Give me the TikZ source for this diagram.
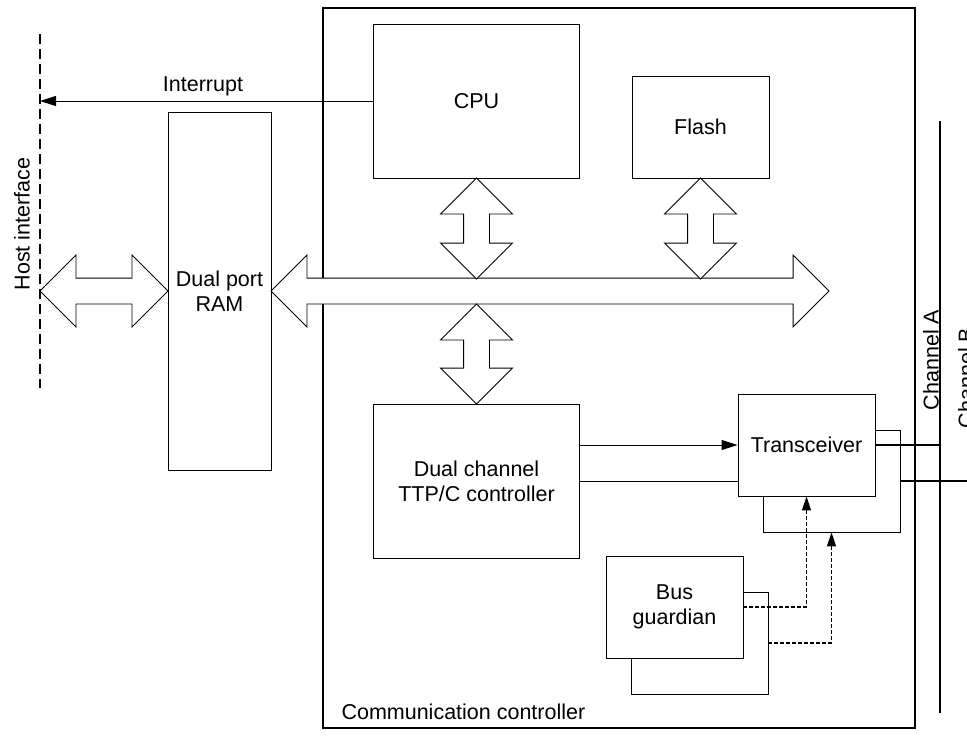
\documentclass[tikz,border=0pt]{standalone}
\usepackage{fontspec}
\setmainfont{Liberation Sans}
\usetikzlibrary{shapes.arrows, arrows.meta, positioning}

\tikzset{
  blk/.style={draw, line width=0.9pt, fill=white, align=center, inner sep=0pt},
  bigbox/.style={blk, minimum width=206pt, minimum height=154pt},
  smallbox/.style={blk, minimum width=137pt, minimum height=102pt},
  bigarrow/.style={double arrow, draw, line width=0.9pt, fill=white,
    inner xsep=0pt, inner ysep=12.5pt, minimum width=0pt,
    double arrow head extend=23pt},
  sig/.style={line width=0.9pt, -{Triangle[length=16pt, width=10pt]}},
  guard/.style={line width=1.3pt, dash pattern=on 4pt off 2pt,
    -{Triangle[length=14pt, width=9pt]}},
  wire/.style={line width=2pt}
}

\begin{document}
\begin{tikzpicture}[x=1pt, y=-1pt, font=\fontsize{21.5}{25}\selectfont]
    \useasboundingbox (0,0) rectangle (967,736);

    % Communication controller frame
    \node[draw, line width=1.1pt, minimum width=592pt, minimum height=720pt, inner sep=0pt] (comm) at (619,368) {};
    \node[anchor=base west] (commlbl) at (338,719) {Communication controller};

    % Host side
    \coordinate (hosttop) at (40,34);
    \coordinate (hostbot) at (40,388);
    \draw[line width=2pt, dash pattern=on 10pt off 5pt] (hosttop) -- (hostbot);
    \node[rotate=90, anchor=base] (hostlbl) at (29.5,224) {Host interface};

    % Blocks
    \node[blk, minimum width=103pt, minimum height=358pt] (ram) at (219.5,291) {Dual port\\RAM};
    \node[bigbox] (cpu) at (476.5,101) {CPU};
    \node[smallbox] (flash) at (700.5,127) {Flash};
    \node[bigbox] (dual) at (476.5,481) {Dual channel\\TTP/C controller};

    \node[smallbox] (trxb) at (831.5,481) {};
    \node[smallbox] (trx) at (806.5,445) {Transceiver};
    \node[smallbox] (bgb) at (699.5,643) {};
    \node[smallbox] (bg) at (674.5,607) {Bus\\guardian};

    % Block arrows
    \node[bigarrow, minimum height=558pt] (bus) at (550,291) {};
    \node[bigarrow, minimum height=128pt] (hostarr) at (104,291) {};
    \node[bigarrow, rotate=90, minimum height=101pt] (cpuarr) at (476.5,228.5) {};
    \node[bigarrow, rotate=90, minimum height=101pt] (flasharr) at (700.5,228.5) {};
    \node[bigarrow, rotate=90, minimum height=100pt] (dualarr) at (476.5,354) {};

    % Interrupt
    \draw[sig] (cpu.west) -- (cpu.west -| hosttop);
    \node (intlbl) at (203,86) {Interrupt};

    % Controller to transceiver
    \draw[sig] (dual.east |- trx.west) -- (trx.west);
    \draw[line width=0.9pt] (dual.east) -- (dual.east -| trx.west);

    % Bus guardian enables
    \draw[guard] (bg.east) -| (trx.south);
    \draw[guard] (bgb.east) -| (trxb.south);

    % Channels
    \coordinate (chAtop) at (940,121);
    \coordinate (chAbot) at (940,713);
    \coordinate (chBend) at (967,481);
    \draw[wire] (chAtop) -- (chAbot);
    \draw[wire] (trx.east) -- (trx.east -| chAtop);
    \draw[wire] (trxb.east) -- (chBend);
    \node[rotate=90, anchor=base] (chAlbl) at (938.5,360) {Channel A};
    \node[rotate=90, anchor=base] (chBlbl) at (973.5,378) {Channel B};
\end{tikzpicture}
\end{document}
